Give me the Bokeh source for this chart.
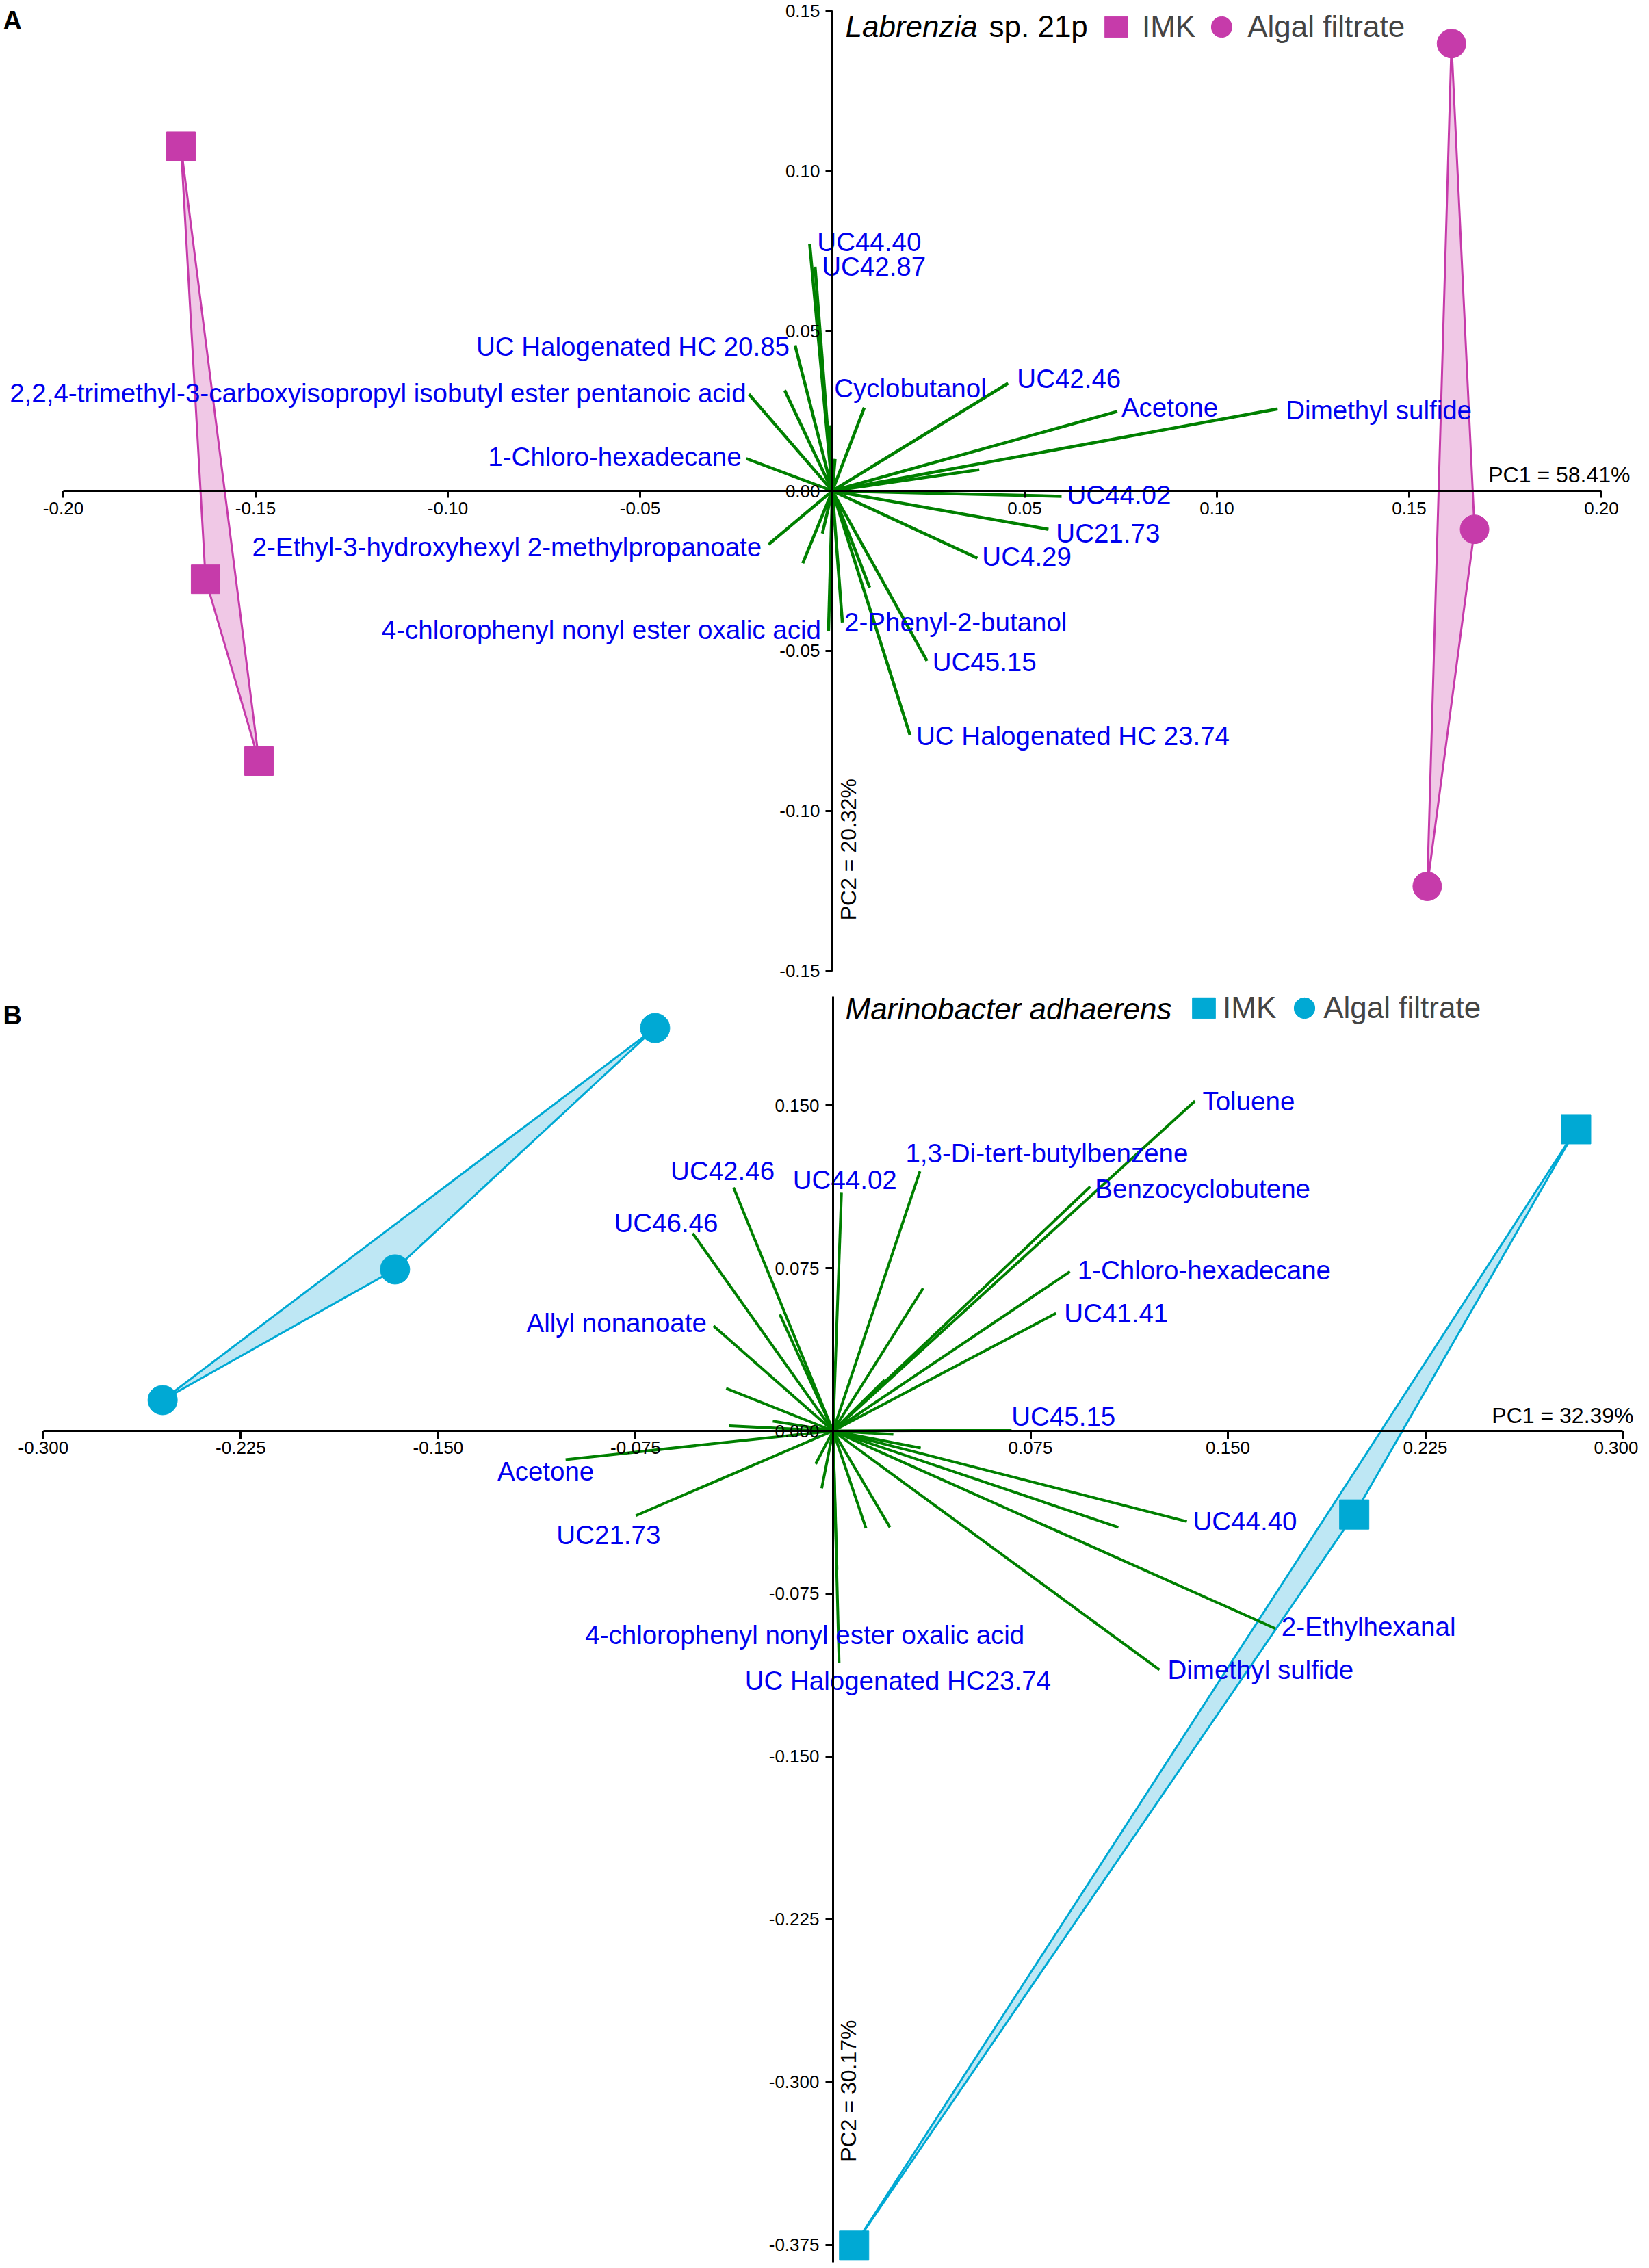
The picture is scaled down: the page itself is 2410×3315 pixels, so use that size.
import math
from bokeh.plotting import figure
from bokeh.models import (LinearAxis, FixedTicker, PrintfTickFormatter, Label,
                          Legend, LegendItem, ColumnDataSource, Range1d)
from bokeh.layouts import column
from bokeh.embed import file_html
from bokeh.resources import INLINE
from bokeh.core.properties import value

FONT = "Liberation Sans"

# ---------------- Panel A: Labrenzia sp. 21p ----------------
A_SPECIES = "Labrenzia"
A_SPECIES_REST = "sp. 21p"
A_IMK_PC1 = [-0.1694, -0.1630, -0.1491]
A_IMK_PC2 = [0.1076, -0.0276, -0.0844]
A_ALG_PC1 = [0.1610, 0.1670, 0.1547]
A_ALG_PC2 = [0.1397, -0.0120, -0.1235]

A_VAR_NAMES = ["UC44.40", "UC42.87", "UC Halogenated HC 20.85",
               "2,2,4-trimethyl-3-carboxyisopropyl isobutyl ester pentanoic acid",
               "1-Chloro-hexadecane", "Cyclobutanol", "UC42.46", "Acetone",
               "Dimethyl sulfide", "UC44.02", "UC21.73", "UC4.29",
               "2-Phenyl-2-butanol", "UC45.15", "UC Halogenated HC 23.74",
               "4-chlorophenyl nonyl ester oxalic acid",
               "2-Ethyl-3-hydroxyhexyl 2-methylpropanoate"]
A_VAR_PC1 = [-0.0059, -0.0045, -0.0097, -0.0217, -0.0224, 0.0083, 0.0457, 0.0741,
             0.1158, 0.0596, 0.0562, 0.0377, 0.0026, 0.0246, 0.0202, -0.0010, -0.0166]
A_VAR_PC2 = [0.0772, 0.0700, 0.0455, 0.0302, 0.0101, 0.0260, 0.0336, 0.0248,
             0.0256, -0.0017, -0.0120, -0.0210, -0.0411, -0.0531, -0.0763, -0.0437, -0.0167]
A_MINOR_PC1 = [-0.0124, 0.0382, 0.0097, -0.0077, -0.0026, -0.0005, 0.0007]
A_MINOR_PC2 = [0.0314, 0.0066, -0.0302, -0.0226, -0.0133, 0.0205, 0.0100]
A_X_TICKS = [-0.20, -0.15, -0.10, -0.05, 0.05, 0.10, 0.15, 0.20]
A_Y_TICKS = [-0.15, -0.10, -0.05, 0.00, 0.05, 0.10, 0.15]
A_PC1_LABEL = "PC1 = 58.41%"
A_PC2_LABEL = "PC2 = 20.32%"

# ---------------- Panel B: Marinobacter adhaerens ----------------
B_SPECIES = "Marinobacter adhaerens"
B_IMK_PC1 = [0.2823, 0.1980, 0.0080]
B_IMK_PC2 = [0.1390, -0.0385, -0.3753]
B_ALG_PC1 = [-0.0676, -0.1664, -0.2547]
B_ALG_PC2 = [0.1856, 0.0744, 0.0142]

B_VAR_NAMES = ["Toluene", "1,3-Di-tert-butylbenzene", "Benzocyclobutene",
               "1-Chloro-hexadecane", "UC41.41", "UC45.15", "UC44.02", "UC42.46",
               "UC46.46", "Allyl nonanoate", "Acetone", "UC21.73",
               "4-chlorophenyl nonyl ester oxalic acid", "UC Halogenated HC23.74",
               "UC44.40", "2-Ethylhexanal", "Dimethyl sulfide"]
B_VAR_PC1 = [0.1375, 0.0330, 0.0977, 0.0900, 0.0847, 0.0678, 0.0032, -0.0378,
             -0.0533, -0.0454, -0.1016, -0.0749, 0.0015, 0.0023, 0.1344, 0.1680, 0.1240]
B_VAR_PC2 = [0.1520, 0.1196, 0.1125, 0.0734, 0.0542, 0.0003, 0.1097, 0.1121,
             0.0910, 0.0484, -0.0132, -0.0390, -0.0640, -0.1068, -0.0417, -0.0910, -0.1100]
B_MINOR_PC1 = [0.0342, 0.0196, -0.0202, -0.0406, -0.0394, -0.0229, -0.0066, -0.0043,
               0.0125, 0.0216, 0.0333, 0.0229, 0.1084]
B_MINOR_PC2 = [0.0657, 0.0235, 0.0537, 0.0196, 0.0024, 0.0045, -0.0152, -0.0264,
               -0.0448, -0.0444, -0.0079, -0.0016, -0.0444]
B_X_TICKS = [-0.300, -0.225, -0.150, -0.075, 0.075, 0.150, 0.225, 0.300]
B_Y_TICKS = [-0.375, -0.300, -0.225, -0.150, -0.075, 0.000, 0.075, 0.150]
B_PC1_LABEL = "PC1 = 32.39%"
B_PC2_LABEL = "PC2 = 30.17%"

# ---------------- label placement (align, dx px, dy px downwards) ----------------
A_LABEL_LAYOUT = {
    "UC44.40": ("left", 11, -3), "UC42.87": ("left", 10, 0),
    "UC Halogenated HC 20.85": ("right", -8, 2),
    "2,2,4-trimethyl-3-carboxyisopropyl isobutyl ester pentanoic acid": ("right", -4, -2),
    "1-Chloro-hexadecane": ("right", -7, -3), "Cyclobutanol": ("left", -44, -28),
    "UC42.46": ("left", 13, -7), "Acetone": ("left", 6, -6),
    "Dimethyl sulfide": ("left", 12, 2), "UC44.02": ("left", 8, -2),
    "UC21.73": ("left", 11, 6), "UC4.29": ("left", 7, -2),
    "2-Phenyl-2-butanol": ("left", 3, 0), "UC45.15": ("left", 8, 1),
    "UC Halogenated HC 23.74": ("left", 9, 1),
    "4-chlorophenyl nonyl ester oxalic acid": ("right", -11, -2),
    "2-Ethyl-3-hydroxyhexyl 2-methylpropanoate": ("right", -10, 4),
}
B_LABEL_LAYOUT = {
    "Toluene": ("left", 11, 0), "1,3-Di-tert-butylbenzene": ("left", -21, -27),
    "Benzocyclobutene": ("left", 7, 3), "1-Chloro-hexadecane": ("left", 11, -2),
    "UC41.41": ("left", 12, 0), "UC45.15": ("left", 0, -20),
    "UC44.02": ("left", -71, -19), "UC42.46": ("center", -16, -24),
    "UC46.46": ("center", -39, -15), "Allyl nonanoate": ("right", -10, -4),
    "Acetone": ("center", -29, 17), "UC21.73": ("center", -40, 28),
    "4-chlorophenyl nonyl ester oxalic acid": ("center", -47, 95),
    "UC Halogenated HC23.74": ("center", 86, 26),
    "UC44.40": ("left", 9, 0), "2-Ethylhexanal": ("left", 9, -3),
    "Dimethyl sulfide": ("left", 12, 0),
}

MAGENTA, MAGENTA_FILL = "#C63BAA", "#F0C8E6"
CYAN, CYAN_FILL = "#00A9D4", "#BEE7F4"
GREEN = "#008000"
BLUE = "#0000EE"


def convex_hull(xs, ys):
    pts = sorted(set(zip(xs, ys)))
    if len(pts) <= 2:
        return pts

    def cross(o, a, b):
        return (a[0] - o[0]) * (b[1] - o[1]) - (a[1] - o[1]) * (b[0] - o[0])

    lower, upper = [], []
    for pt in pts:
        while len(lower) >= 2 and cross(lower[-2], lower[-1], pt) <= 0:
            lower.pop()
        lower.append(pt)
    for pt in reversed(pts):
        while len(upper) >= 2 and cross(upper[-2], upper[-1], pt) <= 0:
            upper.pop()
        upper.append(pt)
    return lower[:-1] + upper[:-1]


def build_panel(width, height, xr, yr, xb, yb, xticks, yticks, fmt,
                imk, alg, color, fill, names, pc1, pc2, mpc1, mpc2, layout,
                lw, msize, tick_x, stand_x, tick_y, stand_y,
                pc1_label, pc1_off, pc2_label, pc2_pos,
                species, species_rest, sp_off, leg_loc, leg_standoff, leg_spacing,
                letter, letter_y):
    p = figure(width=width, height=height, min_border=0, output_backend="svg",
               toolbar_location=None, x_range=Range1d(*xr), y_range=Range1d(*yr),
               x_axis_type=None, y_axis_type=None, outline_line_color=None,
               background_fill_color="white", border_fill_color="white")

    # group hulls
    for (gx, gy) in (imk, alg):
        h = convex_hull(gx, gy)
        p.patch([q[0] for q in h], [q[1] for q in h], fill_color=fill,
                line_color=color, line_width=3)

    # axes through origin
    xa = LinearAxis(fixed_location=0, bounds=xb, ticker=FixedTicker(ticks=xticks),
                    formatter=PrintfTickFormatter(format=fmt))
    ya = LinearAxis(fixed_location=0, bounds=yb, ticker=FixedTicker(ticks=yticks),
                    formatter=PrintfTickFormatter(format=fmt))
    for ax, tl, st in ((xa, tick_x, stand_x), (ya, tick_y, stand_y)):
        ax.axis_line_width = 3
        ax.axis_line_color = "black"
        ax.major_tick_line_width = 3
        ax.major_tick_out = tl
        ax.major_tick_in = 0
        ax.minor_tick_line_color = None
        ax.major_label_standoff = st
        ax.major_label_text_font = FONT
        ax.major_label_text_font_size = "26px"
        ax.major_label_text_color = "black"
    p.add_layout(xa, "below")
    p.add_layout(ya, "left")

    # loadings
    minor = ColumnDataSource(dict(pc1=mpc1, pc2=mpc2))
    p.segment(x0=0, y0=0, x1="pc1", y1="pc2", source=minor, line_color=GREEN, line_width=lw)
    main = ColumnDataSource(dict(pc1=pc1, pc2=pc2, name=names))
    p.segment(x0=0, y0=0, x1="pc1", y1="pc2", source=main, line_color=GREEN, line_width=lw)

    for align in ("left", "right", "center"):
        sel = [i for i, n in enumerate(names) if layout[n][0] == align]
        if not sel:
            continue
        src = ColumnDataSource(dict(
            x=[pc1[i] for i in sel], y=[pc2[i] for i in sel],
            text=[names[i] for i in sel],
            dx=[layout[names[i]][1] for i in sel],
            dy=[layout[names[i]][2] for i in sel]))
        p.text(x="x", y="y", text="text", x_offset="dx", y_offset="dy", source=src,
               text_align=align, text_baseline="middle", text_color=BLUE,
               text_font=value(FONT), text_font_size="38.5px")

    # scores: squares (IMK) and circles (algal filtrate), sized in screen pixels
    r_imk = p.rect(imk[0], imk[1], width=msize, height=msize,
                   width_units="screen", height_units="screen",
                   fill_color=color, line_color=color)
    r_alg = p.ellipse(alg[0], alg[1], width=msize, height=msize,
                      width_units="screen", height_units="screen",
                      fill_color=color, line_color=color)

    # axis titles
    p.add_layout(Label(x=xb[1], y=0, x_offset=pc1_off[0], y_offset=pc1_off[1],
                       text=pc1_label, text_align="right", text_baseline="middle",
                       text_font=FONT, text_font_size="32px", text_color="black"))
    p.add_layout(Label(x=0, y=pc2_pos[1], x_offset=pc2_pos[0], text=pc2_label,
                       angle=math.pi / 2, text_align="center", text_baseline="middle",
                       text_font=FONT, text_font_size="32px", text_color="black"))

    # legend: species name + items
    p.add_layout(Label(x=0, y=yr[1], x_offset=sp_off[0], y_offset=-sp_off[1], text=species,
                       text_align="left", text_baseline="middle", text_font=FONT,
                       text_font_style="italic", text_font_size="44px", text_color="black"))
    if species_rest:
        p.add_layout(Label(x=0, y=yr[1], x_offset=sp_off[2], y_offset=-sp_off[1],
                           text=species_rest, text_align="left", text_baseline="middle",
                           text_font=FONT, text_font_size="44px", text_color="black"))
    leg = Legend(items=[LegendItem(label="IMK", renderers=[r_imk]),
                        LegendItem(label="Algal filtrate", renderers=[r_alg])],
                 orientation="horizontal", location=leg_loc,
                 glyph_width=42, glyph_height=38, label_standoff=leg_standoff,
                 spacing=leg_spacing, padding=0, margin=0,
                 background_fill_alpha=0, border_line_alpha=0,
                 label_text_font=FONT, label_text_font_size="44px",
                 label_text_baseline="middle")
    p.add_layout(leg)

    # panel letter
    p.add_layout(Label(x=4, y=letter_y, x_units="screen", y_units="screen", text=letter,
                       text_align="left", text_baseline="top", text_font=FONT,
                       text_font_style="bold", text_font_size="38px", text_color="black"))
    return p


# page pixel -> data mapping: A x: (px-1216)/5620, y: (717-py)/4680 ; B x: (px-1217)/3847, y: (2091-py)/3173
pA = build_panel(2394, 1440, (-0.21637, 0.20961), (-0.15449, 0.15321),
                 (-0.20, 0.20), (-0.15, 0.15), A_X_TICKS, A_Y_TICKS, "%.2f",
                 (A_IMK_PC1, A_IMK_PC2), (A_ALG_PC1, A_ALG_PC2), MAGENTA, MAGENTA_FILL,
                 A_VAR_NAMES, A_VAR_PC1, A_VAR_PC2, A_MINOR_PC1, A_MINOR_PC2, A_LABEL_LAYOUT,
                 4.5, 42, 10, 6, 10, 8,
                 A_PC1_LABEL, (42, 24), A_PC2_LABEL, (24, -0.112),
                 A_SPECIES, A_SPECIES_REST, (19, 38, 229), (1610, 1376), 17, 17, "A", 1432)

pB = build_panel(2394, 1867, (-0.31635, 0.30596), (-0.38323, 0.20517),
                 (-0.300, 0.300), (-0.383, 0.200), B_X_TICKS, B_Y_TICKS, "%.3f",
                 (B_IMK_PC1, B_IMK_PC2), (B_ALG_PC1, B_ALG_PC2), CYAN, CYAN_FILL,
                 B_VAR_NAMES, B_VAR_PC1, B_VAR_PC2, B_MINOR_PC1, B_MINOR_PC2, B_LABEL_LAYOUT,
                 4, 43, 12, 3, 11, 9,
                 B_PC1_LABEL, (16, 23), B_PC2_LABEL, (23, -0.304),
                 B_SPECIES, None, (18, 34, 0), (1738, 1809), 7, 20, "B", 1845)

layout = column(pA, pB)
open("out.html", "w").write(file_html(layout, INLINE))
